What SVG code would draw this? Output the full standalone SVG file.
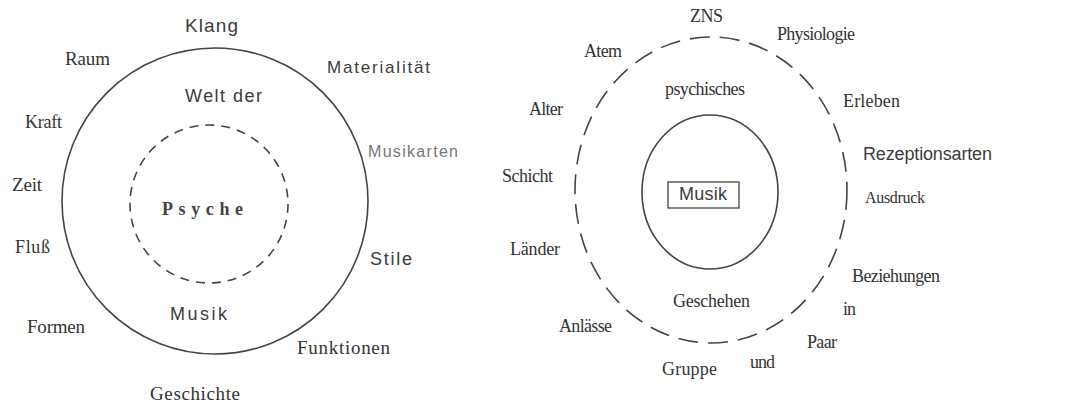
<svg xmlns="http://www.w3.org/2000/svg" width="1092" height="407" viewBox="0 0 1092 407">
<style>
.s{font-family:"Liberation Sans",Arial,sans-serif;font-size:18px;fill:#3c3c3c}
.t{font-family:"Liberation Serif","Times New Roman",serif;font-size:19px;fill:#333}
.tr{font-family:"Liberation Serif","Times New Roman",serif;font-size:18px;fill:#333}
.ln{fill:none;stroke:#444;stroke-width:1.6}
</style>
<rect width="1092" height="407" fill="#fff"/>
<g id="left">
<circle id="outer-left" class="ln" cx="215" cy="201" r="153"/>
<circle id="inner-left" class="ln" cx="209" cy="204" r="79" stroke-dasharray="9 7"/>
<text class="s" x="185" y="32" textLength="53" lengthAdjust="spacing" style="font-size:19px">Klang</text>
<text class="t" x="65" y="65" textLength="45" lengthAdjust="spacing">Raum</text>
<text class="s" x="327" y="73" textLength="103" lengthAdjust="spacing" style="font-size:17px">Materialität</text>
<text class="s" x="185" y="102" textLength="77" lengthAdjust="spacing">Welt der</text>
<text class="t" x="25" y="128" textLength="37" lengthAdjust="spacing" style="font-size:18px">Kraft</text>
<text class="s" x="368" y="157" textLength="90" lengthAdjust="spacing" style="fill:#777;font-size:16px">Musikarten</text>
<text class="t" x="12" y="191" textLength="30" lengthAdjust="spacing">Zeit</text>
<text class="t" x="162" y="215" textLength="81" lengthAdjust="spacing" style="font-weight:bold;font-size:18px;fill:#444">Psyche</text>
<text class="t" x="15" y="253" textLength="35" lengthAdjust="spacing" style="font-size:18px">Fluß</text>
<text class="s" x="370" y="265" textLength="42" lengthAdjust="spacing">Stile</text>
<text class="s" x="170" y="320" textLength="57" lengthAdjust="spacing">Musik</text>
<text class="t" x="27" y="333" textLength="58" lengthAdjust="spacing">Formen</text>
<text class="t" x="297" y="354" textLength="93" lengthAdjust="spacing">Funktionen</text>
<text class="t" x="150" y="400" textLength="90" lengthAdjust="spacing">Geschichte</text>
</g>
<g id="right">
<ellipse id="outer-right" class="ln" cx="711" cy="190" rx="136" ry="153" stroke-dasharray="20 10"/>
<ellipse id="inner-right" class="ln" cx="710" cy="192" rx="68" ry="77"/>
<g id="musik-box">
<rect x="668" y="182" width="71" height="26" fill="none" stroke="#444" stroke-width="1.3"/>
<text class="s" x="679" y="200" textLength="48" lengthAdjust="spacing">Musik</text>
</g>
<text class="tr" x="690" y="22" textLength="33" lengthAdjust="spacing">ZNS</text>
<text class="tr" x="777" y="40" textLength="78" lengthAdjust="spacing">Physiologie</text>
<text class="tr" x="584" y="57" textLength="38" lengthAdjust="spacing">Atem</text>
<text class="tr" x="665" y="95" textLength="80" lengthAdjust="spacing">psychisches</text>
<text class="tr" x="529" y="115" textLength="34" lengthAdjust="spacing">Alter</text>
<text class="tr" x="843" y="107" textLength="57" lengthAdjust="spacing">Erleben</text>
<text class="s" x="863" y="160" textLength="129" lengthAdjust="spacing">Rezeptionsarten</text>
<text class="tr" x="502" y="182" textLength="51" lengthAdjust="spacing">Schicht</text>
<text class="tr" x="865" y="203" textLength="60" lengthAdjust="spacing" style="font-size:16px">Ausdruck</text>
<text class="tr" x="510" y="255" textLength="50" lengthAdjust="spacing">Länder</text>
<text class="tr" x="852" y="282" textLength="88" lengthAdjust="spacing">Beziehungen</text>
<text class="tr" x="673" y="307" textLength="77" lengthAdjust="spacing">Geschehen</text>
<text class="tr" x="843" y="315" textLength="13" lengthAdjust="spacing">in</text>
<text class="tr" x="559" y="332" textLength="53" lengthAdjust="spacing">Anlässe</text>
<text class="tr" x="807" y="348" textLength="30" lengthAdjust="spacing">Paar</text>
<text class="tr" x="750" y="368" textLength="25" lengthAdjust="spacing">und</text>
<text class="tr" x="662" y="375" textLength="55" lengthAdjust="spacing">Gruppe</text>
</g>
</svg>
